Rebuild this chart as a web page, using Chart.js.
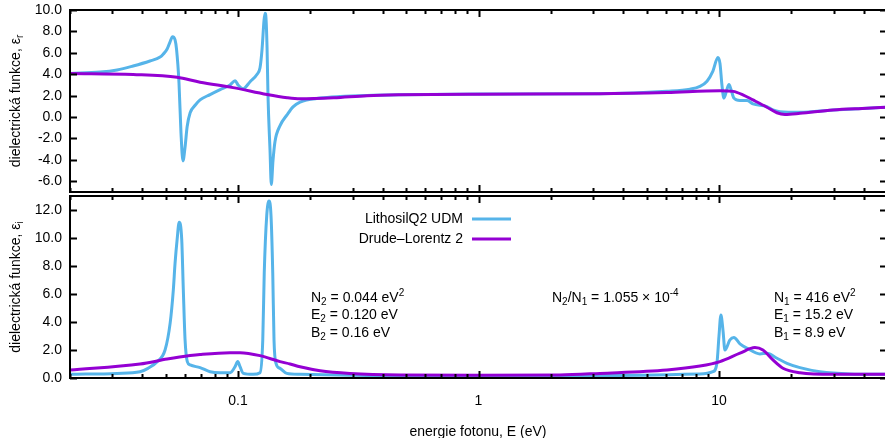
<!DOCTYPE html>
<html>
<head>
<meta charset="utf-8">
<script src="https://cdn.jsdelivr.net/npm/chart.js@4.4.0/dist/chart.umd.min.js"></script>
<style>
  html, body { margin: 0; padding: 0; background: #fff; overflow: hidden; width: 885px; height: 438px; }
  canvas { position: absolute; left: 0; }
</style>
</head>
<body>
<canvas id="topChart" width="890" height="202" style="top:0px"></canvas>
<canvas id="bottomChart" width="890" height="252" style="top:186px"></canvas>
<script>
// photon energy (eV) and dielectric function
const udmEnergyR = [0.020, 0.0267, 0.0314, 0.0366, 0.0430, 0.0474, 0.0488, 0.0507, 0.0521, 0.0534, 0.0547, 0.0555, 0.0568, 0.0579, 0.0590, 0.0602, 0.0614, 0.0632, 0.0663, 0.0695, 0.0765, 0.0842, 0.0926, 0.0972, 0.1000, 0.1049, 0.1122, 0.1200, 0.1234, 0.1258, 0.1282, 0.1295, 0.1307, 0.1320, 0.1332, 0.1358, 0.1375, 0.1397, 0.1424, 0.1495, 0.1598, 0.1693, 0.1810, 0.2193, 0.2655, 0.3439, 0.4717, 1.0, 3.2, 6.08, 7.58, 8.34, 8.92, 9.44, 9.90, 10.10, 10.29, 10.49, 10.80, 11.01, 11.22, 11.54, 12.23, 13.08, 13.85, 15.83, 16.77, 17.93, 21.72, 29.79, 41.25, 50];
const udmEpsR = [4.08, 4.2, 4.4, 4.77, 5.24, 5.6, 5.87, 6.35, 7.0, 7.5, 7.2, 6.3, 3.2, -1.5, -4.1, -2.8, -0.9, 0.4, 1.1, 1.6, 2.1, 2.56, 3.0, 3.4, 3.0, 2.65, 3.3, 4.0, 4.6, 6.3, 9.0, 9.7, 9.2, 6.5, 2.0, -3.1, -6.3, -4.1, -2.3, -0.8, 0.2, 0.95, 1.4, 1.77, 1.92, 2.02, 2.08, 2.15, 2.18, 2.4, 2.6, 2.87, 3.35, 4.3, 5.56, 5.0, 3.0, 1.77, 2.6, 3.03, 2.6, 1.77, 1.55, 1.55, 1.23, 0.98, 0.66, 0.5, 0.45, 0.66, 0.82, 0.92];

const dlEnergyR = [0.020, 0.0366, 0.0558, 0.0695, 0.0953, 0.1320, 0.1600, 0.1810, 0.2500, 0.3439, 0.4717, 1.0, 3.2, 6.08, 10.10, 11.45, 12.58, 13.85, 15.83, 17.43, 18.81, 21.72, 29.79, 41.25, 50];
const dlEpsR = [4.08, 3.98, 3.72, 3.25, 2.75, 2.1, 1.8, 1.7, 1.8, 2.0, 2.08, 2.14, 2.18, 2.3, 2.46, 2.4, 2.08, 1.6, 0.92, 0.4, 0.25, 0.35, 0.66, 0.82, 0.92];

const udmEnergyI = [0.020, 0.0314, 0.0391, 0.0422, 0.0461, 0.0497, 0.0522, 0.0538, 0.0547, 0.0558, 0.0569, 0.0583, 0.0592, 0.0602, 0.0615, 0.0632, 0.0695, 0.0765, 0.0842, 0.0926, 0.0972, 0.0997, 0.1019, 0.1052, 0.1155, 0.1234, 0.1267, 0.1285, 0.1316, 0.1345, 0.1371, 0.1394, 0.1411, 0.1438, 0.1495, 0.1594, 0.1810, 0.3, 1.0, 3.2, 8.34, 9.44, 9.81, 10.0, 10.19, 10.39, 10.59, 11.11, 11.54, 12.23, 13.08, 14.81, 15.83, 17.43, 19.18, 21.72, 26.3, 35.05, 50];
const udmEpsI = [0.26, 0.33, 0.45, 0.69, 1.17, 2.0, 3.94, 6.3, 8.2, 9.9, 11.13, 9.9, 6.3, 2.72, 1.17, 0.93, 0.74, 0.45, 0.38, 0.38, 0.81, 1.17, 0.81, 0.33, 0.26, 0.38, 2.72, 7.5, 11.6, 12.64, 11.6, 7.5, 2.72, 1.05, 0.69, 0.33, 0.26, 0.2, 0.12, 0.17, 0.29, 0.45, 1.07, 2.96, 4.5, 3.44, 2.0, 2.72, 2.89, 2.44, 2.13, 1.72, 1.77, 1.41, 1.05, 0.74, 0.45, 0.29, 0.26];

const dlEnergyI = [0.020, 0.0391, 0.0507, 0.0632, 0.0695, 0.0926, 0.1019, 0.1234, 0.1495, 0.1645, 0.1810, 0.2193, 0.2921, 0.4717, 1.0, 2.18, 3.2, 6.08, 8.34, 10.1, 12.23, 14.11, 15.24, 16.77, 18.46, 21.72, 29.79, 50];
const dlEpsI = [0.57, 1.0, 1.35, 1.6, 1.68, 1.81, 1.81, 1.6, 1.17, 1.0, 0.8, 0.52, 0.33, 0.22, 0.2, 0.22, 0.33, 0.57, 0.85, 1.17, 1.77, 2.17, 2.0, 1.29, 0.7, 0.38, 0.26, 0.26];

const seriesNames = ["LithosilQ2 UDM", "Drude\u2013Lorentz 2"];
const seriesColors = ["#56b4e9", "#9400d3"];
const xLabelTicks = [0.1, 1, 10];
const yTicksTop = [-6, -4, -2, 0, 2, 4, 6, 8, 10];
const yTicksBottom = [0, 2, 4, 6, 8, 10, 12];

const FONT = "'Liberation Sans', Arial, Helvetica, sans-serif";

function pts(xs, ys) {
  return xs.map((e, i) => ({ x: e, y: ys[i] }));
}

// text with sub/superscripts: runs of [text, 'sub'|'sup'|undefined]
function drawRuns(ctx, runs, x, y, align) {
  const base = 14, small = 10;
  let w = 0;
  runs.forEach(r => {
    ctx.font = (r[1] ? small : base) + "px " + FONT;
    w += ctx.measureText(r[0]).width;
  });
  let cx = align === "center" ? x - w / 2 : (align === "right" ? x - w : x);
  ctx.textAlign = "left";
  ctx.textBaseline = "middle";
  runs.forEach(r => {
    ctx.font = (r[1] ? small : base) + "px " + FONT;
    const dy = r[1] === "sub" ? 4 : (r[1] === "sup" ? -5 : 0);
    ctx.fillText(r[0], cx, y + dy);
    cx += ctx.measureText(r[0]).width;
  });
}

const frame = {
  id: "frame",
  afterDraw(chart, args, o) {
    const { ctx, chartArea: a, scales: { x, y } } = chart;
    ctx.save();
    ctx.strokeStyle = "#000";
    ctx.fillStyle = "#000";
    ctx.lineWidth = 2;
    ctx.strokeRect(a.left, a.top, a.right - a.left, a.bottom - a.top);
    ctx.beginPath();
    for (let d = 0.01; d < 100; d *= 10) {
      for (let k = 1; k <= 9; k++) {
        const v = k * d;
        if (v < 0.0199 || v > 50.01) continue;
        const len = k === 1 ? 7 : 4;
        const px = Math.round(x.getPixelForValue(v)) + 0.5;
        ctx.moveTo(px, a.bottom); ctx.lineTo(px, a.bottom - len);
        ctx.moveTo(px, a.top); ctx.lineTo(px, a.top + len);
      }
    }
    o.yTicks.forEach(v => {
      const py = Math.round(y.getPixelForValue(v)) + 0.5;
      ctx.moveTo(a.left, py); ctx.lineTo(a.left + 7, py);
      ctx.moveTo(a.right, py); ctx.lineTo(a.right - 7, py);
    });
    ctx.stroke();

    // rotated y-axis title
    ctx.save();
    ctx.translate(16, (a.top + a.bottom) / 2);
    ctx.rotate(-Math.PI / 2);
    drawRuns(ctx, [["dielectrická funkce, \u03b5"], [o.sub, "sub"]], 0, 0, "center");
    ctx.restore();

    if (o.legend) {
      chart.data.datasets.forEach((ds, i) => {
        const ly = 33 + i * 20;
        drawRuns(ctx, [[ds.label]], 463, ly, "right");
        ctx.strokeStyle = ds.borderColor;
        ctx.lineWidth = 3;
        ctx.beginPath();
        ctx.moveTo(472, ly); ctx.lineTo(511, ly);
        ctx.stroke();
      });
      const ay = [112, 129.5, 147];
      drawRuns(ctx, [["N"], ["2", "sub"], [" = 0.044 eV"], ["2", "sup"]], 311, ay[0], "left");
      drawRuns(ctx, [["E"], ["2", "sub"], [" = 0.120 eV"]], 311, ay[1], "left");
      drawRuns(ctx, [["B"], ["2", "sub"], [" = 0.16 eV"]], 311, ay[2], "left");
      drawRuns(ctx, [["N"], ["2", "sub"], ["/N"], ["1", "sub"], [" = 1.055 \u00d7 10"], ["-4", "sup"]], 552, ay[0], "left");
      drawRuns(ctx, [["N"], ["1", "sub"], [" = 416 eV"], ["2", "sup"]], 774, ay[0], "left");
      drawRuns(ctx, [["E"], ["1", "sub"], [" = 15.2 eV"]], 774, ay[1], "left");
      drawRuns(ctx, [["B"], ["1", "sub"], [" = 8.9 eV"]], 774, ay[2], "left");
      drawRuns(ctx, [["energie fotonu, E (eV)"]], 478, 246, "center");
    }
    ctx.restore();
  }
};

function makeChart(id, udm, dl, yMin, yMax, yTicks, axisHeight, isBottom, sub) {
  return new Chart(document.getElementById(id), {
    type: "line",
    data: {
      datasets: [
        { label: seriesNames[0], data: udm, borderColor: seriesColors[0], borderWidth: 3, pointRadius: 0, cubicInterpolationMode: "monotone", order: 2 },
        { label: seriesNames[1], data: dl, borderColor: seriesColors[1], borderWidth: 3, pointRadius: 0, cubicInterpolationMode: "monotone", order: 1 }
      ]
    },
    options: {
      responsive: false,
      animation: false,
      layout: { padding: { top: 10, right: 3, left: 0, bottom: 0 } },
      plugins: {
        legend: { display: false },
        tooltip: { enabled: false },
        frame: { yTicks: yTicks, legend: isBottom, sub: sub }
      },
      scales: {
        x: {
          type: "logarithmic", min: 0.02, max: 50,
          grid: { display: false, drawTicks: false },
          border: { display: false },
          ticks: {
            display: isBottom, padding: 15, color: "#000", autoSkip: false, maxRotation: 0,
            font: { family: FONT, size: 14 },
            callback: v => xLabelTicks.includes(v) ? String(v) : ""
          },
          afterBuildTicks: s => { s.ticks = xLabelTicks.map(v => ({ value: v })); },
          afterFit: s => { s.height = axisHeight; s.paddingLeft = 0; s.paddingRight = 0; }
        },
        y: {
          type: "linear", min: yMin, max: yMax,
          grid: { display: false, drawTicks: false },
          border: { display: false },
          ticks: {
            padding: 8, color: "#000",
            font: { family: FONT, size: 14 },
            callback: v => v.toFixed(1)
          },
          afterBuildTicks: s => { s.ticks = yTicks.map(v => ({ value: v })); },
          afterFit: s => { s.width = 70; s.paddingTop = 0; s.paddingBottom = 0; }
        }
      }
    },
    plugins: [frame]
  });
}

makeChart("topChart", pts(udmEnergyR, udmEpsR), pts(dlEnergyR, dlEpsR), -7, 10, yTicksTop, 10, false, "r");
makeChart("bottomChart", pts(udmEnergyI, udmEpsI), pts(dlEnergyI, dlEpsI), 0, 13, yTicksBottom, 60, true, "i");
</script>
</body>
</html>
